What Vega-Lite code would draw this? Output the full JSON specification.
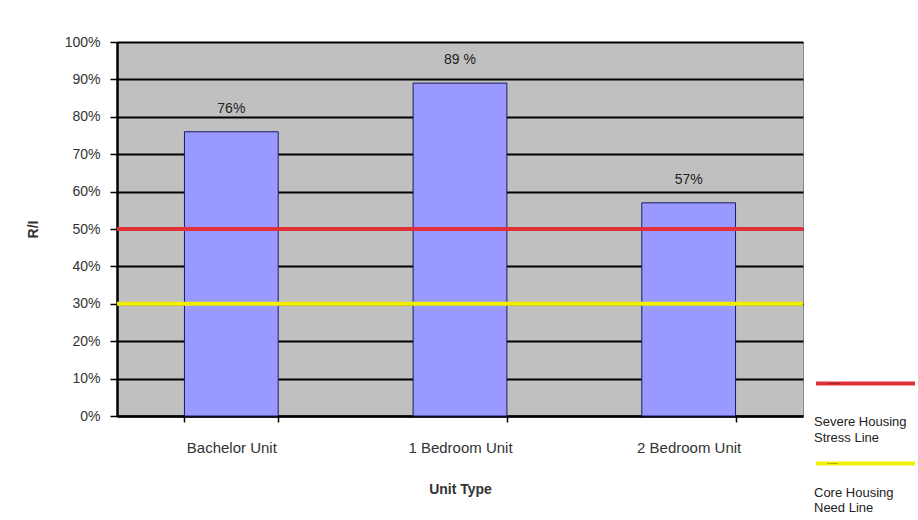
{
  "$schema": "https://vega.github.io/schema/vega-lite/v6.json",
  "width": 686,
  "height": 374,
  "autosize": "none",
  "padding": {"left": 117, "top": 42, "right": 115, "bottom": 104},
  "background": "white",
  "config": {
    "font": "Liberation Sans",
    "view": {"fill": "#c0c0c0", "stroke": "#8a8a8a", "strokeWidth": 1},
    "legend": {
      "orient": "none", "padding": 0,
      "symbolType": "stroke", "symbolSize": 9800, "symbolStrokeWidth": 4,
      "labelExpr": "''", "labelOffset": -90, "labelFontSize": 1,
      "titleOrient": "bottom", "titleFontSize": 13, "titleFontWeight": "normal", "titleColor": "#222",
      "titleLineHeight": 16, "titleAnchor": "start", "titleAlign": "left", "titleLimit": 200
    }
  },
  "datasets": {
    "bars": [
      {"unit": "Bachelor Unit", "ri": 0.76, "label": "76%"},
      {"unit": "1 Bedroom Unit", "ri": 0.89, "label": "89 %"},
      {"unit": "2 Bedroom Unit", "ri": 0.57, "label": "57%"}
    ],
    "severe": [
      {"severeLine": "Severe Housing Stress Line", "ri": 0.5}
    ],
    "core": [
      {"coreLine": "Core Housing Need Line", "ri": 0.3}
    ]
  },
  "encoding": {
    "y": {
      "field": "ri", "type": "quantitative",
      "scale": {"domain": [0, 1]},
      "axis": {
        "title": "R/I", "titleFontSize": 14, "titleFontWeight": "bold", "titleColor": "#333",
        "titlePadding": 24,
        "format": ".0%", "values": [0, 0.1, 0.2, 0.3, 0.4, 0.5, 0.6, 0.7, 0.8, 0.9, 1],
        "labelOverlap": false,
        "labelFontSize": 14, "labelColor": "#333", "labelPadding": 10,
        "domainColor": "black", "domainWidth": 2.5, "tickColor": "black", "tickWidth": 1.5, "tickSize": 7,
        "grid": true, "gridColor": "black", "gridWidth": 1.8
      }
    }
  },
  "layer": [
    {
      "data": {"name": "bars"},
      "mark": {"type": "bar", "fill": "#9999ff", "stroke": "#1a1a66", "strokeWidth": 1},
      "encoding": {
        "x": {
          "field": "unit", "type": "nominal", "sort": null,
          "scale": {"paddingInner": 0.59, "paddingOuter": 0.295},
          "axis": {
            "title": "Unit Type", "titleFontSize": 14, "titleFontWeight": "bold",
            "titleColor": "#333", "titlePadding": 27,
            "labelAngle": 0, "labelFontSize": 15, "labelColor": "#333", "labelPadding": 18,
            "domainColor": "black", "domainWidth": 2.5, "tickColor": "black", "tickWidth": 1.5, "tickSize": 6,
            "tickBand": "extent", "grid": false
          }
        }
      }
    },
    {
      "data": {"name": "bars"},
      "mark": {"type": "text", "baseline": "middle", "dy": -23, "fontSize": 14, "color": "#222"},
      "encoding": {
        "x": {"field": "unit", "type": "nominal", "sort": null},
        "text": {"field": "label"}
      }
    },
    {
      "data": {"name": "severe"},
      "mark": {"type": "rule", "strokeWidth": 4},
      "encoding": {
        "stroke": {
          "field": "severeLine", "type": "nominal",
          "scale": {"domain": ["Severe Housing Stress Line"], "range": ["#e0303a"]},
          "legend": {
            "legendX": 697, "legendY": 290,
            "title": ["Severe Housing", "Stress Line"], "titlePadding": 24
          }
        }
      }
    },
    {
      "data": {"name": "core"},
      "mark": {"type": "rule", "strokeWidth": 4},
      "encoding": {
        "color": {
          "field": "coreLine", "type": "nominal",
          "scale": {"domain": ["Core Housing Need Line"], "range": ["#f2f000"]},
          "legend": {
            "legendX": 697, "legendY": 370,
            "title": ["Core Housing", "Need Line"], "titlePadding": 15, "titleLineHeight": 15
          }
        }
      }
    }
  ]
}
